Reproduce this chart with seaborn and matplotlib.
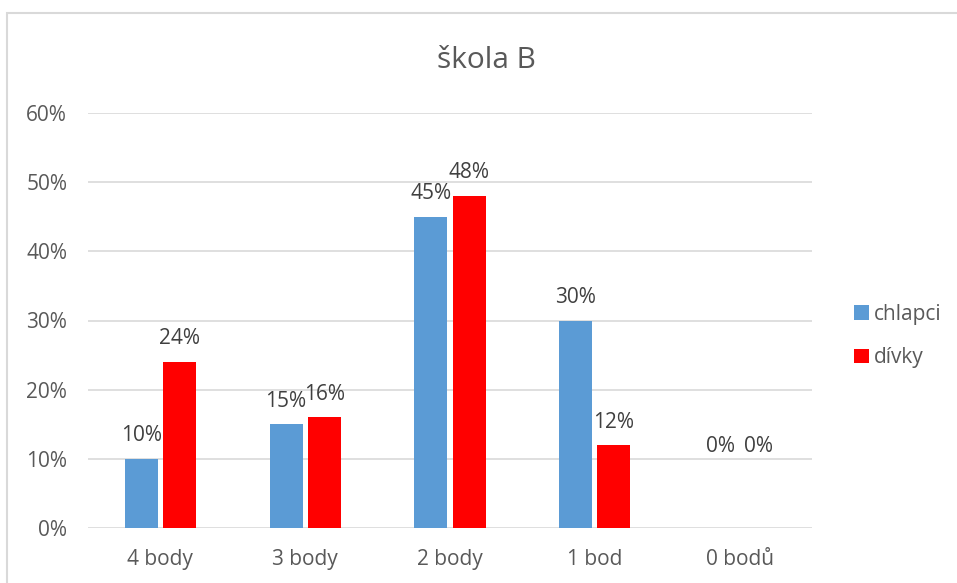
import pandas as pd
import matplotlib.pyplot as plt
import matplotlib.patches as mpatches
import seaborn as sns

categories = ['4 body', '3 body', '2 body', '1 bod', '0 bodů']
chlapci = [0.10, 0.15, 0.45, 0.30, 0.00]
divky = [0.24, 0.16, 0.48, 0.12, 0.00]
groups = ['chlapci', 'dívky']
colors = ['#5B9BD5', '#FF0000']
yticks = [0, 0.1, 0.2, 0.3, 0.4, 0.5, 0.6]

df = pd.DataFrame({
    'kategorie': categories * 2,
    'podil': chlapci + divky,
    'skupina': [groups[0]] * len(categories) + [groups[1]] * len(categories),
})

sns.set_style('white')
plt.rcParams['font.family'] = ['Open Sans', 'DejaVu Sans']
text_color = '#595959'
grid_color = '#D9D9D9'
fs = 15

fig = plt.figure(figsize=(9.57, 5.83), dpi=100)
ax = fig.add_axes([88 / 957, 1 - 528 / 583, (812 - 88) / 957, (528 - 113) / 583])

sns.barplot(data=df, x='kategorie', y='podil', hue='skupina', order=categories,
            hue_order=groups, palette=colors, width=0.53, gap=0.14,
            saturation=1, linewidth=0, ax=ax, legend=True)

ax.set_xlim(-0.5, len(categories) - 0.5)
ax.set_ylim(0, 0.6)
ax.set_yticks(yticks)
ax.set_yticklabels([f'{int(round(t * 100))}%' for t in yticks])
ax.yaxis.grid(True, color=grid_color, linewidth=1.2)
ax.set_axisbelow(True)
sns.despine(ax=ax, left=True, top=True, right=True, bottom=True)
ax.tick_params(axis='y', length=0, pad=15, labelsize=fs, labelcolor=text_color)
ax.tick_params(axis='x', length=0, pad=15, labelsize=fs, labelcolor=text_color)
ax.set_xlabel('')
ax.set_ylabel('')

# popisky hodnot nad sloupci (nulove hodnoty jsou v originale posunute vys)
for container in ax.containers:
    for bar in container:
        h = bar.get_height()
        pad = 9 if h > 0 else 51
        ax.annotate(f'{int(round(h * 100))}%', (bar.get_x() + bar.get_width() / 2, h),
                    xytext=(0, pad), textcoords='offset points', ha='center', va='bottom',
                    fontsize=fs, color='#404040')

# nadpis je v originale vycentrovany na celou plochu grafu
fig.text(486 / 957, 1 - 60 / 583, 'škola B', fontsize=21.5, color=text_color,
         ha='center', va='center')

leg = ax.legend(loc='center left', bbox_to_anchor=(846 / 957, 1 - 336 / 583),
                bbox_transform=fig.transFigure, frameon=False, fontsize=fs,
                handlelength=0.7, handleheight=0.7, handletextpad=0.25,
                labelspacing=1.1, borderaxespad=0)
for t in leg.get_texts():
    t.set_color(text_color)

# okraj grafu (oriznuty vpravo a dole)
fig.patches.append(mpatches.Rectangle((7.5 / 957, -0.1), 1.2, 1.1 - 13.5 / 583,
                                      transform=fig.transFigure, fill=False,
                                      edgecolor=grid_color, linewidth=1.5))

fig.savefig('out.png', dpi=100)
